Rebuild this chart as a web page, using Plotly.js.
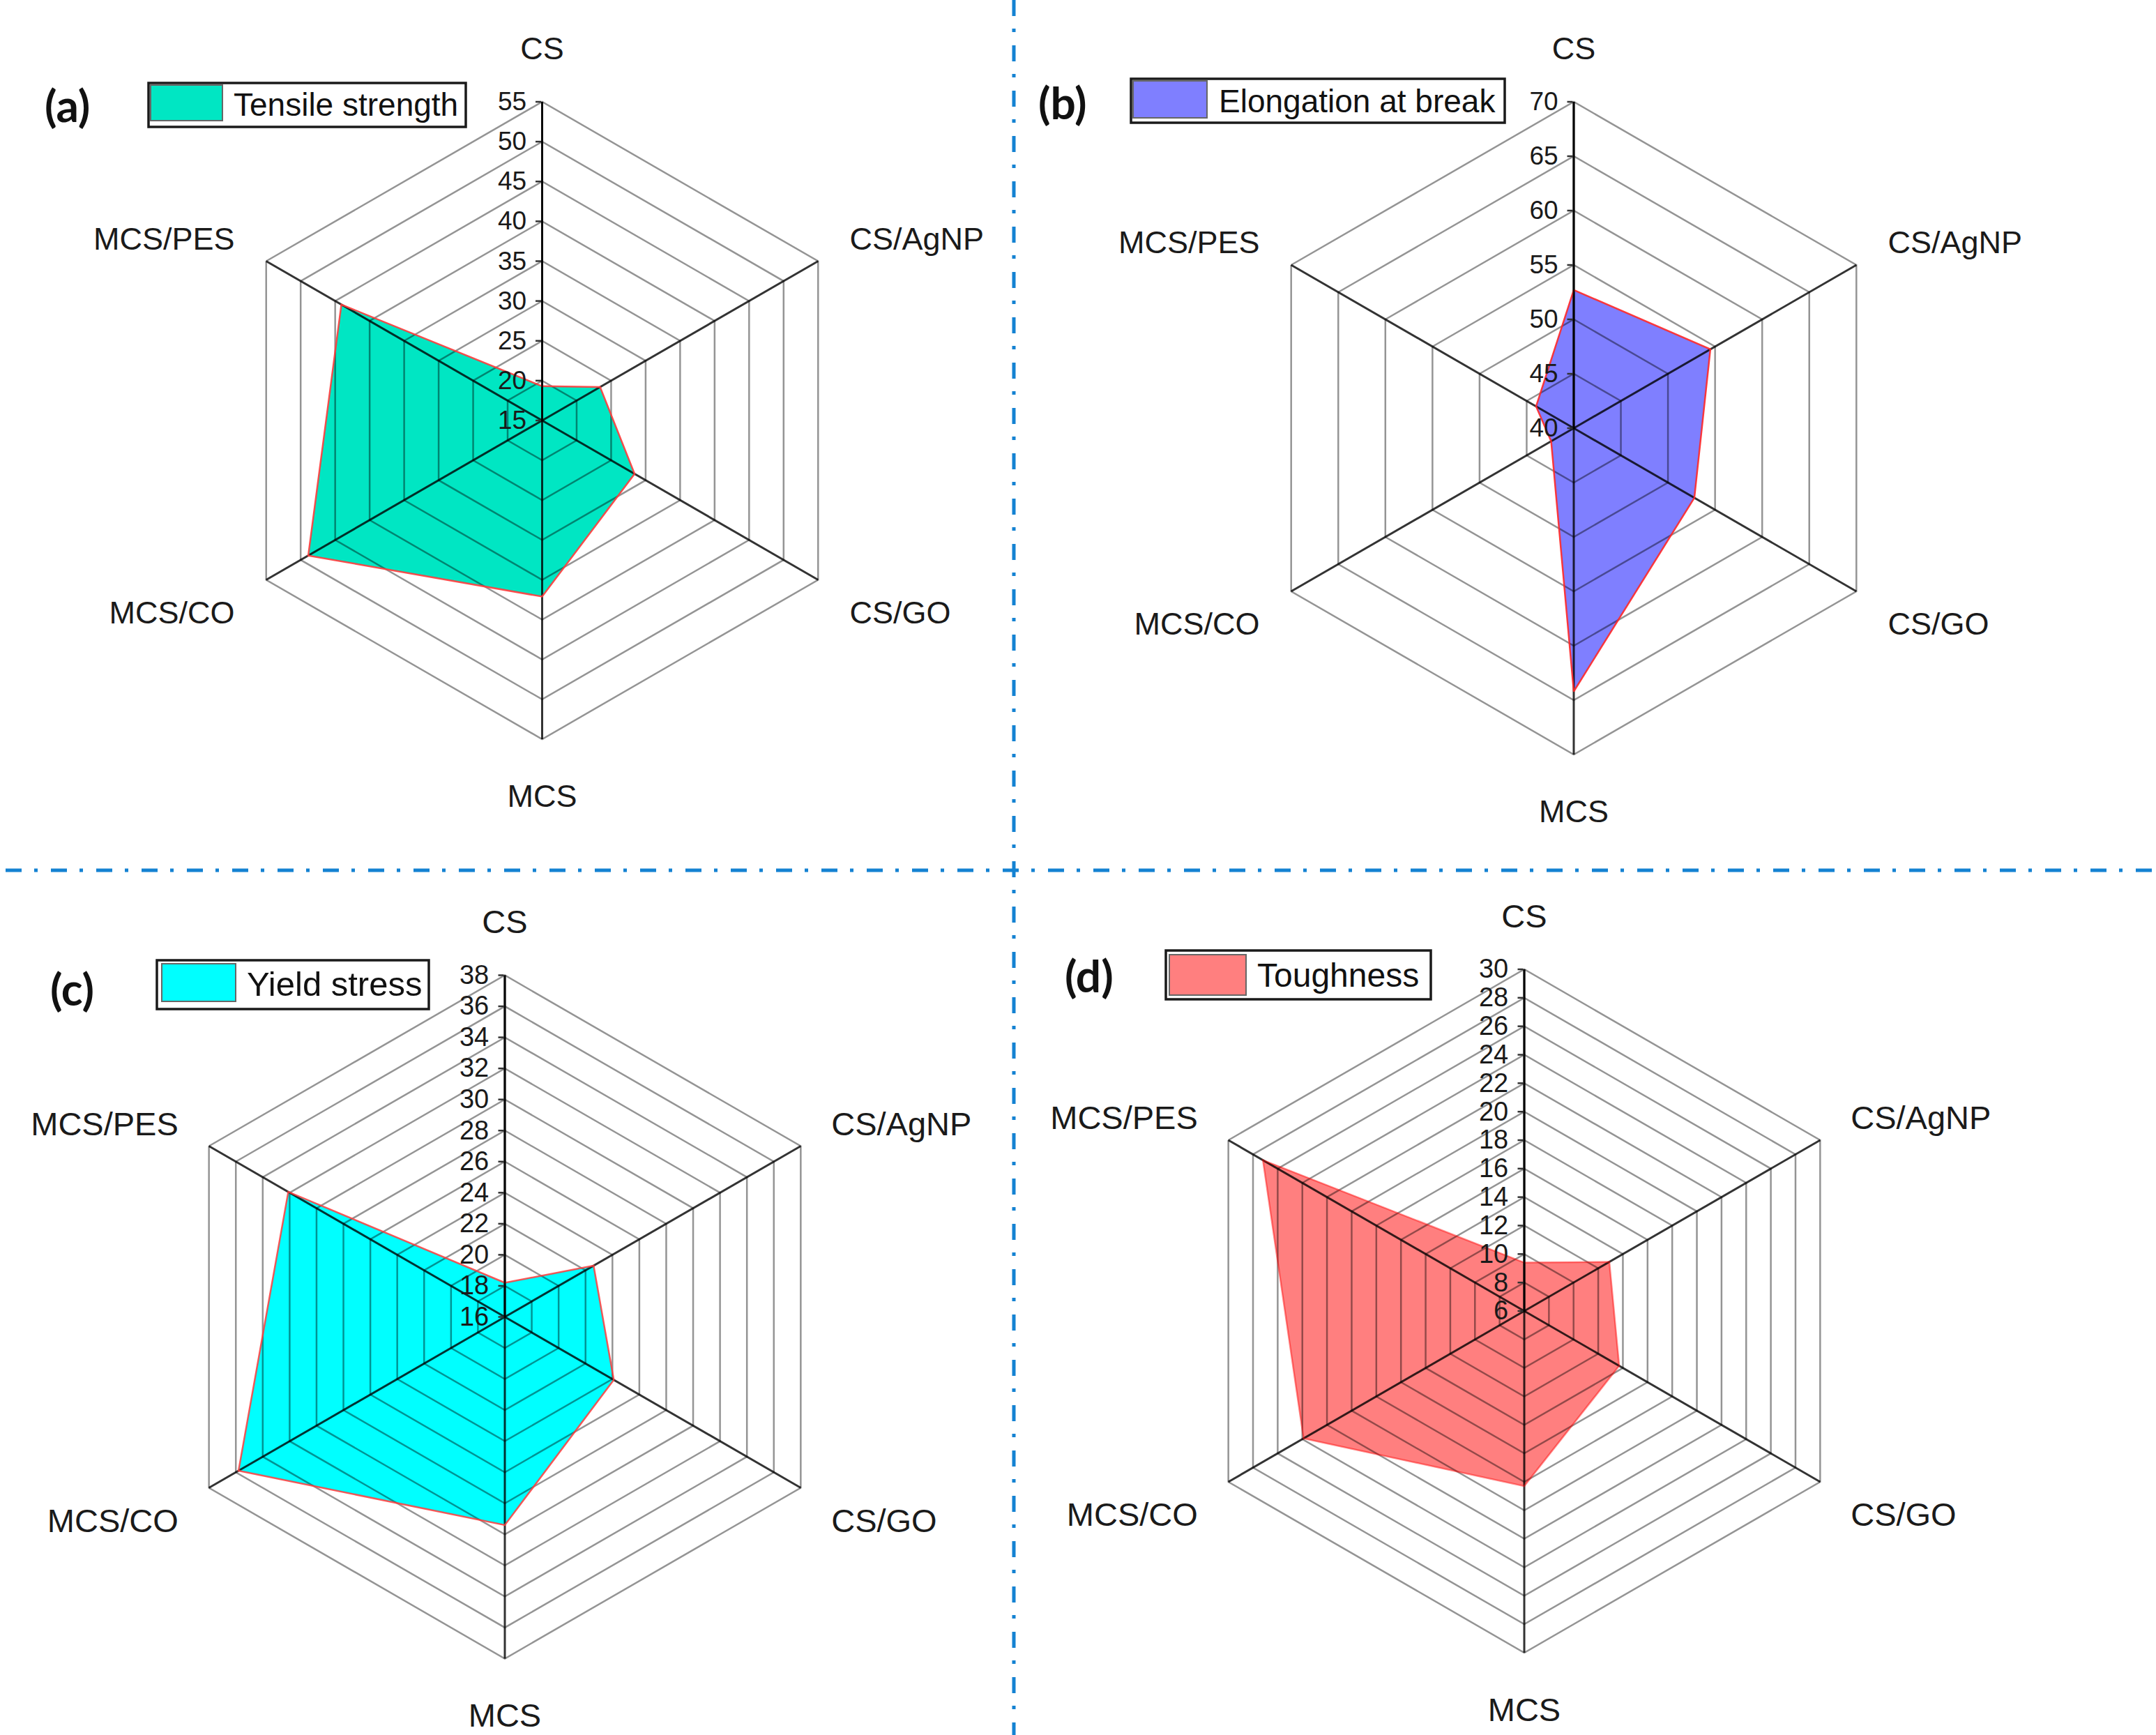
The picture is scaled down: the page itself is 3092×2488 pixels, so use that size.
<!DOCTYPE html>
<html>
<head>
<meta charset="utf-8">
<script src="https://cdn.plot.ly/plotly-3.0.1.min.js"></script>
<style>html,body{margin:0;padding:0;background:#fff;}</style>
</head>
<body>
<div id="chart" style="width:3092px;height:2488px;"></div>
<script>
// ---------- data ----------
const categories = ['CS', 'CS/AgNP', 'CS/GO', 'MCS', 'MCS/CO', 'MCS/PES'];
const tensileStrength   = [19.3, 23.4, 28.4, 37.1, 48.9, 44.1];
const elongationAtBreak = [52.7, 54.5, 52.8, 64.2, 42.4, 44.0];
const yieldStress       = [18.2, 22.6, 24.1, 29.4, 35.8, 32.1];
const toughness         = [9.4, 12.9, 13.7, 18.3, 23.9, 27.2];
const seriesNames = ['Tensile strength', 'Elongation at break', 'Yield stress', 'Toughness'];
const panelLabels = ['(a)', '(b)', '(c)', '(d)'];
const radialRanges = [[15, 55], [40, 70], [16, 38], [6, 30]];
const radialSteps = [5, 5, 2, 2];

// ---------- styling / layout ----------
const W = 3092, H = 2488;
const FONT = 'Liberation Sans, Arial, Helvetica, sans-serif';
const seriesValues = [tensileStrength, elongationAtBreak, yieldStress, toughness];
const fillColors = ['#00E6C3', 'rgba(0,0,255,0.5)', '#00FFFF', 'rgba(255,0,0,0.5)'];
const outlineColors = ['rgba(255,60,60,0.9)', 'rgba(255,40,40,0.9)', 'rgba(255,60,60,0.85)', 'rgba(255,0,0,0.45)'];
const panels = [
  {cx: 777.5, cy: 603,   R: 457, catSize: 45, tickSize: 37, legendSize: 46, pad: 42,
   box: [213, 119, 668, 182], sw: [216, 122, 319, 173], tx: 333, ty: 150, lab: [96, 151]},
  {cx: 2257,  cy: 614,   R: 468, catSize: 45, tickSize: 37, legendSize: 46, pad: 42,
   box: [1622, 113, 2158, 176], sw: [1625, 116, 1731, 169], tx: 1746, ty: 145, lab: [1524, 147]},
  {cx: 724,   cy: 1888.5, R: 490, catSize: 47, tickSize: 38, legendSize: 49, pad: 40,
   box: [225, 1377, 615, 1447], sw: [232, 1382, 338, 1436], tx: 352, ty: 1411, lab: [104, 1417]},
  {cx: 2186,  cy: 1880,  R: 490, catSize: 47, tickSize: 38, legendSize: 48, pad: 40,
   box: [1672, 1363, 2052, 1433], sw: [1677, 1369, 1787, 1427], tx: 1801, ty: 1398, lab: [1562, 1398]}
];

const px = x => x / W;
const py = y => 1 - y / H;

const data = [];
const layout = {
  width: W, height: H,
  margin: {l: 0, r: 0, t: 0, b: 0},
  paper_bgcolor: '#ffffff',
  showlegend: false,
  hovermode: false,
  shapes: [],
  annotations: []
};

panels.forEach((p, i) => {
  const baseId = i === 0 ? 'polar' : 'polar' + (i + 1);
  const topId = 'polar' + (i + 5);
  const domain = {
    x: [px(p.cx - p.R), px(p.cx + p.R)],
    y: [py(p.cy + p.R), py(p.cy - p.R)]
  };
  const vals = seriesValues[i];

  // filled area (below the grid)
  data.push({
    type: 'scatterpolar', subplot: baseId,
    r: vals, theta: categories,
    mode: 'lines', fill: 'toself', fillcolor: fillColors[i],
    line: {width: 0, color: fillColors[i]},
    name: seriesNames[i], hoverinfo: 'skip'
  });
  // outline (above the grid)
  data.push({
    type: 'scatterpolar', subplot: topId,
    r: vals.concat([vals[0]]), theta: categories.concat([categories[0]]),
    mode: 'lines', line: {width: 2.5, color: outlineColors[i]},
    name: seriesNames[i], hoverinfo: 'skip'
  });

  layout[baseId] = {
    domain: domain, bgcolor: 'rgba(0,0,0,0)', gridshape: 'linear',
    radialaxis: {range: radialRanges[i], visible: false},
    angularaxis: {type: 'category', categoryarray: categories, direction: 'clockwise',
                  rotation: 90, visible: false}
  };
  layout[topId] = {
    domain: domain, bgcolor: 'rgba(0,0,0,0)', gridshape: 'linear',
    radialaxis: {
      range: radialRanges[i], tick0: radialRanges[i][0], dtick: radialSteps[i],
      angle: 90, side: 'counterclockwise', tickangle: 90,
      showline: true, linecolor: 'rgba(0,0,0,0.85)', linewidth: 3,
      showgrid: true, gridcolor: 'rgba(0,0,0,0.42)', gridwidth: 2.5,
      ticks: 'outside', ticklen: 8, tickwidth: 2.5, tickcolor: '#333',
      tickfont: {family: FONT, size: p.tickSize, color: '#1a1a1a'}
    },
    angularaxis: {
      type: 'category', categoryarray: categories, direction: 'clockwise', rotation: 90,
      showgrid: true, gridcolor: 'rgba(0,0,0,0.8)', gridwidth: 3,
      showline: true, linecolor: 'rgba(0,0,0,0.42)', linewidth: 2.5,
      ticks: 'outside', ticklen: p.pad, tickcolor: 'rgba(0,0,0,0)',
      tickfont: {family: FONT, size: p.catSize, color: '#1a1a1a'}
    }
  };

  // legend box
  layout.shapes.push({type: 'rect', xref: 'paper', yref: 'paper',
    x0: px(p.box[0]), x1: px(p.box[2]), y0: py(p.box[3]), y1: py(p.box[1]),
    line: {color: '#1a1a1a', width: 3.5}, fillcolor: '#ffffff'});
  layout.shapes.push({type: 'rect', xref: 'paper', yref: 'paper',
    x0: px(p.sw[0]), x1: px(p.sw[2]), y0: py(p.sw[3]), y1: py(p.sw[1]),
    line: {color: '#666666', width: 2}, fillcolor: fillColors[i]});
  layout.annotations.push({xref: 'paper', yref: 'paper', x: px(p.tx), y: py(p.ty),
    xanchor: 'left', yanchor: 'middle', showarrow: false, text: seriesNames[i],
    font: {family: FONT, size: p.legendSize, color: '#111'}});
  // panel letter
  layout.annotations.push({xref: 'paper', yref: 'paper', x: px(p.lab[0]), y: py(p.lab[1]),
    xanchor: 'center', yanchor: 'middle', showarrow: false, text: '<b>' + panelLabels[i] + '</b>',
    font: {family: 'Lato, Open Sans, sans-serif', size: 64, color: '#111'}});
});

// dash-dot separators
const sepStyle = {color: '#1482D2', width: 5, dash: '23px,18px,5px,19px'};
layout.shapes.push({type: 'line', xref: 'paper', yref: 'paper',
  x0: px(1454), x1: px(1454), y0: py(0), y1: py(H), line: sepStyle});
layout.shapes.push({type: 'line', xref: 'paper', yref: 'paper',
  x0: px(8), x1: px(W), y0: py(1248), y1: py(1248), line: sepStyle});

Plotly.newPlot('chart', data, layout, {staticPlot: true, displayModeBar: false});
</script>
</body>
</html>
